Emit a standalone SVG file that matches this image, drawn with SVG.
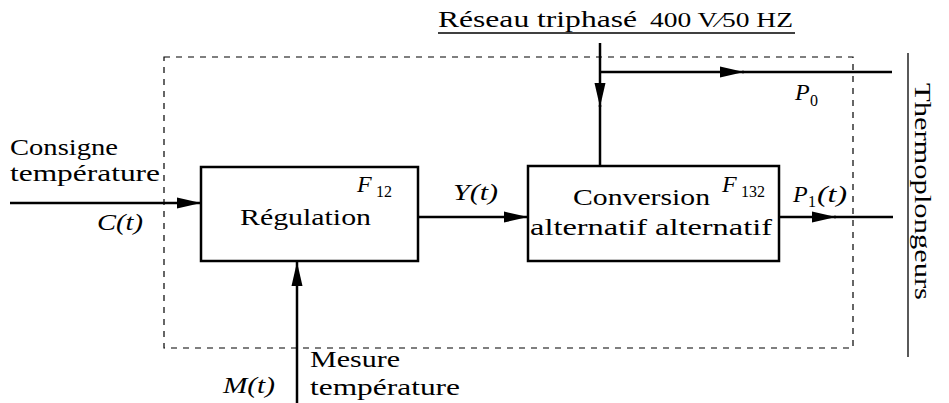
<svg xmlns="http://www.w3.org/2000/svg" width="949" height="403" viewBox="0 0 949 403">
<defs>
<marker id="ah" markerUnits="userSpaceOnUse" markerWidth="24" markerHeight="12" refX="24" refY="6" orient="auto">
<path d="M0,0.5 L24,6 L0,11.5 Z" fill="#000"/>
</marker>
</defs>
<style>
text{font-family:"Liberation Serif","Times New Roman",serif;fill:#000}
.t{font-size:24px}
.m{font-size:24px;font-style:italic}
.s{font-size:16px}
.box{fill:#fff;stroke:#000;stroke-width:2.5}
.ln{stroke:#000;stroke-width:2.5;fill:none}
.th{stroke:#000;stroke-width:1.3;fill:none}
.ds{stroke:#000;stroke-width:1.2;fill:none;stroke-dasharray:6,6}
</style>
<rect class="ds" x="164" y="57" width="689" height="291"/>
<g id="connectors">
<line class="ln" x1="10" y1="203" x2="201" y2="203" marker-end="url(#ah)"/>
<line class="ln" x1="418" y1="217" x2="528" y2="217" marker-end="url(#ah)"/>
<line class="ln" x1="779" y1="217" x2="836" y2="217" marker-end="url(#ah)"/>
<line class="ln" x1="834" y1="217" x2="893" y2="217"/>
<line class="ln" x1="600" y1="43" x2="600" y2="107" marker-end="url(#ah)"/>
<line class="ln" x1="600" y1="105" x2="600" y2="166"/>
<line class="ln" x1="599" y1="72" x2="744" y2="72" marker-end="url(#ah)"/>
<line class="ln" x1="742" y1="72" x2="892" y2="72"/>
<line class="ln" x1="297" y1="403" x2="297" y2="262" marker-end="url(#ah)"/>
<line class="th" x1="908" y1="53" x2="908" y2="357"/>
<line class="th" x1="438" y1="33" x2="795" y2="33"/>
</g>
<g id="regulation">
<rect class="box" x="201" y="167" width="217" height="94"/>
<text class="t" x="240" y="225" textLength="131" lengthAdjust="spacingAndGlyphs">Régulation</text>
<text class="m" x="357" y="192">F</text>
<text class="s" x="376" y="197">12</text>
</g>
<g id="conversion">
<rect class="box" x="528" y="166" width="251" height="95"/>
<text class="t" x="573" y="205" textLength="137" lengthAdjust="spacingAndGlyphs">Conversion</text>
<text class="t" x="530" y="235" textLength="242" lengthAdjust="spacingAndGlyphs">alternatif alternatif</text>
<text class="m" x="722" y="192">F</text>
<text class="s" x="741" y="197">132</text>
</g>
<g id="labels">
<text class="t" x="10" y="155" textLength="108" lengthAdjust="spacingAndGlyphs">Consigne</text>
<text class="t" x="10" y="181" textLength="150" lengthAdjust="spacingAndGlyphs">température</text>
<text class="m" x="97" y="230" textLength="46" lengthAdjust="spacingAndGlyphs">C(t)</text>
<text class="m" x="453" y="200" textLength="45" lengthAdjust="spacingAndGlyphs">Y(t)</text>
<text class="m" x="793" y="202">P</text>
<text class="s" x="808" y="207">1</text>
<text class="m" x="817" y="202" textLength="30" lengthAdjust="spacingAndGlyphs">(t)</text>
<text class="m" x="795" y="100">P</text>
<text class="s" x="810" y="106">0</text>
<text class="m" x="223" y="393" textLength="52" lengthAdjust="spacingAndGlyphs">M(t)</text>
<text class="t" x="310" y="367" textLength="90" lengthAdjust="spacingAndGlyphs">Mesure</text>
<text class="t" x="310" y="395" textLength="150" lengthAdjust="spacingAndGlyphs">température</text>
<text class="t" x="438" y="27" textLength="199" lengthAdjust="spacingAndGlyphs">Réseau triphasé</text>
<text style="font-size:21px" x="650" y="27" textLength="143" lengthAdjust="spacingAndGlyphs">400 V∕50 HZ</text>
<text class="t" transform="translate(915,83) rotate(90)" textLength="217" lengthAdjust="spacingAndGlyphs">Thermoplongeurs</text>
</g>
</svg>
